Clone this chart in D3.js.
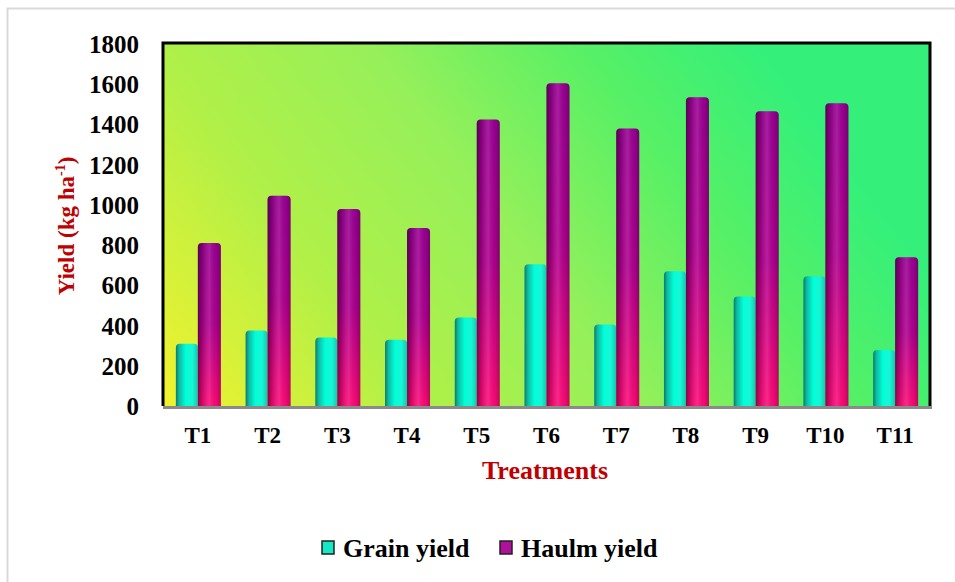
<!DOCTYPE html>
<html><head><meta charset="utf-8">
<script src="https://cdn.jsdelivr.net/npm/d3@7"></script>
<style>body{margin:0;background:#fff}svg{display:block}</style>
</head><body>
<script>
const categories = ["T1","T2","T3","T4","T5","T6","T7","T8","T9","T10","T11"];
const grainYield = [310,375,340,330,440,705,405,670,545,645,278];
const haulmYield = [810,1045,980,885,1425,1605,1380,1535,1465,1505,740];
const seriesNames = ["Grain yield","Haulm yield"];
const yTicks = [0,200,400,600,800,1000,1200,1400,1600,1800];

const W=955,H=582;
const svg=d3.select("body").append("svg").attr("width",W).attr("height",H);
const defs=svg.append("defs");

// frame
svg.append("rect").attr("x",7.5).attr("y",8.5).attr("width",W).attr("height",H+10).attr("fill","#fff").attr("stroke","#d9d9d9").attr("stroke-width",2);

const L=163,R=930,T=43,B=406;
const x=d3.scaleBand().domain(categories).range([L,R]);
const y=d3.scaleLinear().domain([0,1800]).range([B,T+1]);

const bg=defs.append("linearGradient").attr("id","bg").attr("x1",0).attr("y1",1).attr("x2",1).attr("y2",0.65);
[[0,"#f2f22e"],[0.3,"#b0f048"],[0.55,"#96f05a"],[0.8,"#56f066"],[1,"#34f07a"]].forEach(s=>bg.append("stop").attr("offset",s[0]).attr("stop-color",s[1]));
svg.append("rect").attr("x",L).attr("y",T).attr("width",R-L).attr("height",B-T).attr("fill","url(#bg)");

// bar gradients
const g1=defs.append("linearGradient").attr("id","gGrain").attr("x1",0).attr("x2",1).attr("y1",0).attr("y2",0);
[[0,"#067a6e"],[0.15,"#10b9a2"],[0.45,"#00ffd8"],[0.75,"#19f5d6"],[1,"#0cc9b0"]].forEach(s=>g1.append("stop").attr("offset",s[0]).attr("stop-color",s[1]));
const g2=defs.append("linearGradient").attr("id","gHaulmV").attr("x1",0).attr("x2",0).attr("y1",0).attr("y2",1);
[[0,"#9a0094"],[0.5,"#b00090"],[1,"#ff0a78"]].forEach(s=>g2.append("stop").attr("offset",s[0]).attr("stop-color",s[1]));
const sh=defs.append("linearGradient").attr("id","shade").attr("x1",0).attr("x2",1).attr("y1",0).attr("y2",0);
[[0,"#000",0.45],[0.2,"#000",0.15],[0.5,"#fff",0.12],[0.8,"#000",0.05],[1,"#000",0.25]].forEach(s=>sh.append("stop").attr("offset",s[0]).attr("stop-color",s[1]).attr("stop-opacity",s[2]));

const bw=22;
function barPath(x0,top,w){
  const r=4;
  return `M${x0},${B} L${x0},${top+r} Q${x0},${top} ${x0+r},${top} L${x0+w-r},${top} Q${x0+w},${top} ${x0+w},${top+r} L${x0+w},${B} Z`;
}
const gBars=svg.append("g");
categories.forEach((c,i)=>{
  const cx=x(c)+x.bandwidth()/2;
  gBars.append("path").attr("d",barPath(cx-bw,y(grainYield[i]),bw)).attr("fill","url(#gGrain)");
  gBars.append("path").attr("d",barPath(cx,y(haulmYield[i]),bw+1)).attr("fill","url(#gHaulmV)");
  gBars.append("path").attr("d",barPath(cx,y(haulmYield[i]),bw+1)).attr("fill","url(#shade)");
});

// border
svg.append("path").attr("d",`M${L},${B} L${L},${T} L${R},${T} L${R},${B}`).attr("fill","none").attr("stroke","#000").attr("stroke-width",3);
svg.append("line").attr("x1",L).attr("x2",R+2).attr("y1",B+1.5).attr("y2",B+1.5).attr("stroke","#8a8a8a").attr("stroke-width",3);

const font="'Liberation Serif','Times New Roman',serif";
// y axis
const ya=svg.append("g").attr("transform",`translate(${L},0)`).call(d3.axisLeft(y).tickValues(yTicks).tickFormat(d3.format("d")).tickSize(0).tickPadding(24));
ya.select(".domain").remove();
ya.selectAll("text").attr("font-family",font).attr("font-weight","bold").attr("font-size",25).attr("fill","#000").attr("dy","0.34em");
// x axis
const xa=svg.append("g").attr("transform",`translate(0,${B})`).call(d3.axisBottom(x).tickSize(0).tickPadding(0));
xa.select(".domain").remove();
xa.selectAll("text").attr("font-family",font).attr("font-weight","bold").attr("font-size",23).attr("fill","#000").attr("dy",0).attr("y",37);

svg.append("text").attr("x",545).attr("y",479).attr("text-anchor","middle").attr("font-family",font).attr("font-weight","bold").attr("font-size",26).attr("fill","#c00000").text("Treatments");
const yt=svg.append("text").attr("transform","translate(74,226) rotate(-90)").attr("text-anchor","middle").attr("font-family",font).attr("font-weight","bold").attr("font-size",23).attr("fill","#c00000");
yt.append("tspan").text("Yield (kg ha");
yt.append("tspan").attr("font-size",14).attr("dy",-9).text("-1");
yt.append("tspan").attr("dy",9).text(")");

// legend
const leg=[{n:seriesNames[0],f:"#14e8c4",x:322},{n:seriesNames[1],f:"#b0109a",x:500}];
leg.forEach(l=>{
  svg.append("rect").attr("x",l.x).attr("y",541).attr("width",12).attr("height",13).attr("fill",l.f).attr("stroke","#222").attr("stroke-width",1.5);
  svg.append("text").attr("x",l.x+21).attr("y",557).attr("font-family",font).attr("font-weight","bold").attr("font-size",26).attr("fill","#000").text(l.n);
});
</script>
</body></html>
